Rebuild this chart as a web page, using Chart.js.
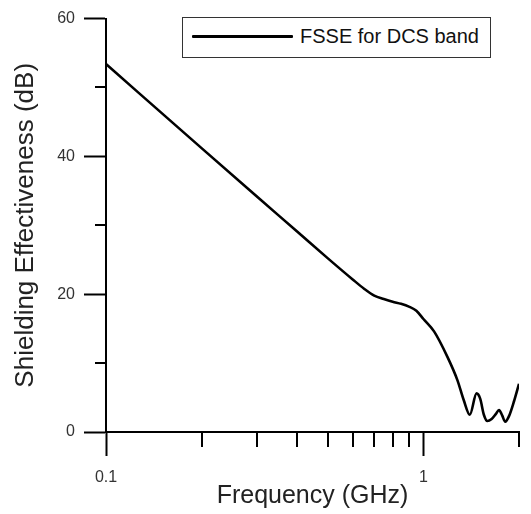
<!DOCTYPE html>
<html>
<head>
<meta charset="utf-8">
<script src="https://cdn.jsdelivr.net/npm/chart.js@4.4.0/dist/chart.umd.min.js"></script>
<style>
  html, body { margin: 0; padding: 0; background: #fff; }
  #wrap { position: relative; width: 531px; height: 514px; }
  #legend {
    position: absolute; left: 182px; top: 17px; width: 307px; height: 39px;
    border: 1px solid #333; background: #fff;
    font-family: "Liberation Sans", Arial, sans-serif; font-size: 20px; color: #111;
  }
  #legend .swatch { position: absolute; left: 9px; top: 17px; width: 101px; height: 3px; background: #000; border-radius: 1px; }
  #legend .text { position: absolute; left: 117px; top: 6px; line-height: 24px; white-space: nowrap; }
</style>
</head>
<body>
<div id="wrap">
  <canvas id="c" width="531" height="514"></canvas>
  <div id="legend"></div>
</div>
<script>
// ---- data ----
const seriesLabel = 'FSSE for DCS band';
const frequencyGHz = [0.1, 0.2, 0.3, 0.4, 0.5, 0.6, 0.65, 0.7, 0.75, 0.8, 0.85, 0.9, 0.95, 1.0, 1.08, 1.19, 1.28, 1.34, 1.40, 1.47, 1.51, 1.55, 1.59, 1.64, 1.69, 1.73, 1.77, 1.81, 1.86, 1.93, 2.0];
const shieldingDB  = [53.4, 41.2, 34.1, 29.1, 25.2, 22.1, 20.8, 19.8, 19.3, 18.9, 18.6, 18.2, 17.6, 16.4, 14.6, 10.9, 7.5, 4.6, 2.5, 5.6, 4.8, 2.5, 1.6, 1.9, 2.6, 3.2, 2.4, 1.5, 2.3, 4.5, 7.0];
const xMajorTicks = [0.1, 1];
const xTickLabels = ['0.1', '1'];
const xMinorTicks = [0.2, 0.3, 0.4, 0.5, 0.6, 0.7, 0.8, 0.9, 2];
const yMajorTicks = [0, 20, 40, 60];
const yTickLabels = ['0', '20', '40', '60'];
const yMinorTicks = [10, 30, 50];
const xTitle = 'Frequency (GHz)';
const yTitle = 'Shielding Effectiveness (dB)';

const FONT = '"Liberation Sans", Arial, sans-serif';

const minorTicks = {
  id: 'minorTicks',
  afterDraw(chart) {
    const ctx = chart.ctx, xs = chart.scales.x, ys = chart.scales.y;
    ctx.save();
    ctx.strokeStyle = '#000';
    ctx.lineWidth = 2;
    ctx.beginPath();
    xMinorTicks.forEach(v => {
      const px = Math.round(xs.getPixelForValue(v));
      ctx.moveTo(px, xs.top); ctx.lineTo(px, xs.top + 15);
    });
    yMinorTicks.forEach(v => {
      const py = Math.round(ys.getPixelForValue(v));
      ctx.moveTo(ys.right - 11, py); ctx.lineTo(ys.right, py);
    });
    ctx.stroke();
    ctx.restore();
  }
};

const chart = new Chart(document.getElementById('c'), {
  type: 'line',
  data: {
    datasets: [{
      label: seriesLabel,
      data: frequencyGHz.map((f, i) => ({ x: f, y: shieldingDB[i] })),
      borderColor: '#000',
      borderWidth: 2.6,
      pointRadius: 0,
      cubicInterpolationMode: 'monotone',
      fill: false
    }]
  },
  options: {
    responsive: false,
    animation: false,
    layout: { padding: { top: 17, right: 12, left: 0, bottom: 0 } },
    plugins: { legend: { display: false }, tooltip: { enabled: false } },
    scales: {
      x: {
        type: 'logarithmic',
        min: 0.1, max: 2,
        afterBuildTicks: s => { s.ticks = xMajorTicks.map(v => ({ value: v })); },
        afterFit: s => { s.height = 82; },
        ticks: {
          autoSkip: false, maxRotation: 0, padding: 12,
          color: '#333', font: { family: FONT, size: 16 },
          callback: (v, i) => xTickLabels[i]
        },
        grid: { drawOnChartArea: false, drawTicks: true, tickLength: 24, tickWidth: 2, tickColor: '#000' },
        border: { display: true, color: '#000', width: 2 },
        title: { display: true, text: xTitle, color: '#222', font: { family: FONT, size: 25 }, padding: { top: 0, bottom: 3 } }
      },
      y: {
        min: 0, max: 60,
        afterBuildTicks: s => { s.ticks = yMajorTicks.map(v => ({ value: v })); },
        afterFit: s => { s.width = 106; },
        ticks: {
          padding: 9, color: '#333', font: { family: FONT, size: 16 },
          callback: (v, i) => yTickLabels[i]
        },
        grid: { drawOnChartArea: false, drawTicks: true, tickLength: 22, tickWidth: 2, tickColor: '#000' },
        border: { display: true, color: '#000', width: 2 },
        title: { display: true, text: yTitle, color: '#222', font: { family: FONT, size: 26 }, padding: { top: 10, bottom: 0 } }
      }
    }
  },
  plugins: [minorTicks]
});

// HTML legend built from the dataset
const lg = document.getElementById('legend');
chart.data.datasets.forEach(ds => {
  const sw = document.createElement('div'); sw.className = 'swatch'; sw.style.background = ds.borderColor;
  const tx = document.createElement('div'); tx.className = 'text'; tx.textContent = ds.label;
  lg.appendChild(sw); lg.appendChild(tx);
});
</script>
</body>
</html>
